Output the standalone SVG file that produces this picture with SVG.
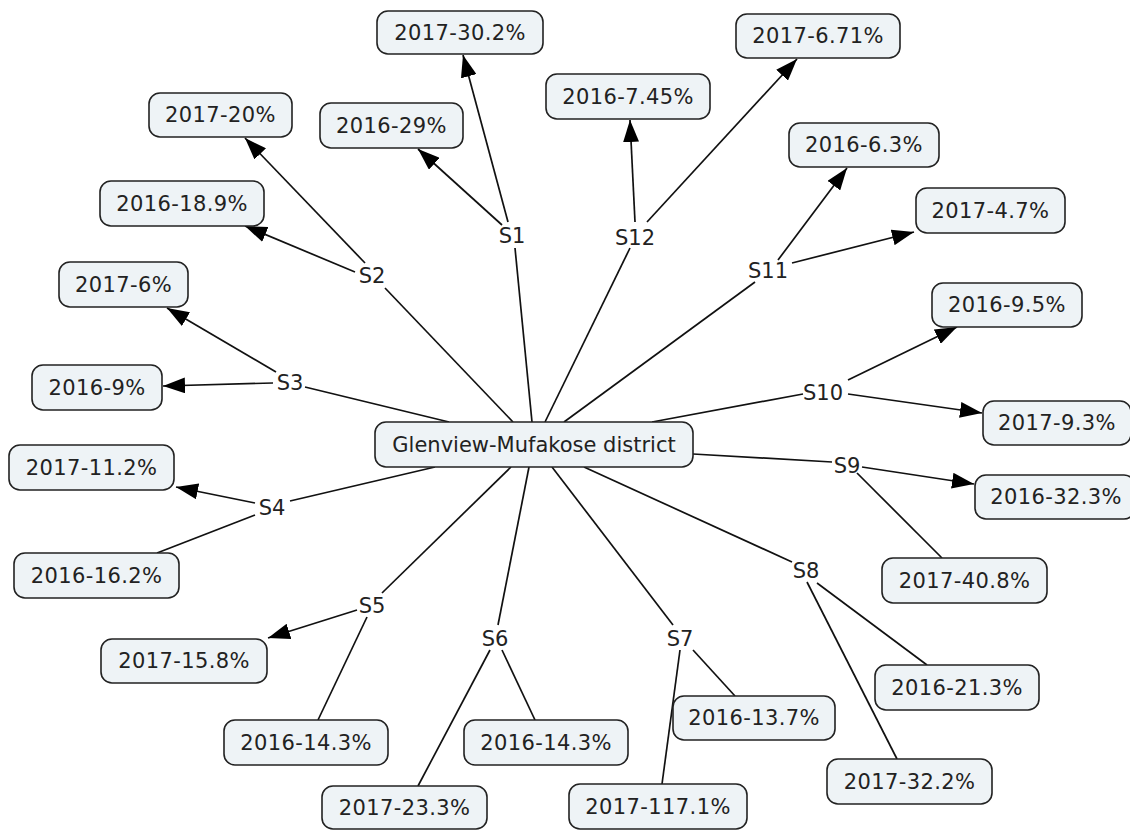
<svg xmlns="http://www.w3.org/2000/svg" width="1130" height="830" viewBox="0 0 1130 830">
<style>
.box{fill:#eef3f6;stroke:#222;stroke-width:1.6}
.t{font-family:"DejaVu Sans",Verdana,sans-serif;font-size:21px;fill:#222;text-anchor:middle}
.n text{letter-spacing:0.4px}
.c line{stroke:#111;stroke-width:1.7}
.a{marker-end:url(#ah)}
</style>
<defs>
<marker id="ah" markerUnits="userSpaceOnUse" markerWidth="22" markerHeight="16" refX="22" refY="8" orient="auto">
<path d="M0,0 L22,8 L0,16 z" fill="#000"/>
</marker>
</defs>
<rect width="1130" height="830" fill="#fff"/>
<g id="connectors" class="c">
<line x1="515" y1="248" x2="532" y2="422"/>
<line x1="630" y1="248" x2="545" y2="422"/>
<line x1="755" y1="282" x2="564" y2="422"/>
<line x1="385" y1="288" x2="513" y2="422"/>
<line x1="305" y1="387" x2="449" y2="422"/>
<line x1="290" y1="501" x2="435" y2="467"/>
<line x1="382" y1="593" x2="511" y2="467"/>
<line x1="498" y1="625" x2="529" y2="467"/>
<line x1="673" y1="625" x2="552" y2="467"/>
<line x1="792" y1="562" x2="584" y2="467"/>
<line x1="832" y1="462" x2="693" y2="454"/>
<line x1="803" y1="394" x2="652" y2="422"/>
<line class="a" x1="508" y1="222" x2="463" y2="55"/>
<line class="a" x1="502" y1="225" x2="418" y2="149"/>
<line class="a" x1="365" y1="263" x2="245" y2="138"/>
<line class="a" x1="355" y1="272" x2="245" y2="226"/>
<line class="a" x1="276" y1="372" x2="167" y2="308"/>
<line class="a" x1="273" y1="383" x2="163" y2="386"/>
<line class="a" x1="255" y1="503" x2="176" y2="487"/>
<line x1="255" y1="515" x2="157" y2="553"/>
<line class="a" x1="357" y1="610" x2="268" y2="638"/>
<line x1="367" y1="617" x2="318" y2="720"/>
<line x1="502" y1="650" x2="535" y2="720"/>
<line x1="490" y1="650" x2="418" y2="786"/>
<line x1="693" y1="650" x2="735" y2="696"/>
<line x1="680" y1="650" x2="662" y2="784"/>
<line x1="817" y1="583" x2="927" y2="665"/>
<line x1="807" y1="582" x2="897" y2="759"/>
<line class="a" x1="862" y1="467" x2="974" y2="484"/>
<line x1="857" y1="473" x2="942" y2="558"/>
<line class="a" x1="848" y1="380" x2="957" y2="327"/>
<line class="a" x1="848" y1="394" x2="982" y2="413"/>
<line class="a" x1="778" y1="260" x2="847" y2="168"/>
<line class="a" x1="792" y1="263" x2="914" y2="232"/>
<line class="a" x1="635" y1="222" x2="630" y2="120"/>
<line class="a" x1="647" y1="222" x2="797" y2="59"/>
</g>
<g id="center"><rect class="box" x="375" y="422" width="318" height="45" rx="11"/><text class="t" x="534" y="452">Glenview-Mufakose district</text></g>
<g id="S1"><text class="t" x="512" y="243">S1</text></g>
<g id="S2"><text class="t" x="372" y="283">S2</text></g>
<g id="S3"><text class="t" x="290" y="390">S3</text></g>
<g id="S4"><text class="t" x="272" y="515">S4</text></g>
<g id="S5"><text class="t" x="372" y="613">S5</text></g>
<g id="S6"><text class="t" x="495" y="646">S6</text></g>
<g id="S7"><text class="t" x="680" y="646">S7</text></g>
<g id="S8"><text class="t" x="806" y="578">S8</text></g>
<g id="S9"><text class="t" x="847" y="473">S9</text></g>
<g id="S10"><text class="t" x="823" y="400">S10</text></g>
<g id="S11"><text class="t" x="768" y="278">S11</text></g>
<g id="S12"><text class="t" x="635" y="245">S12</text></g>
<g class="n">
<g id="n1"><rect class="box" x="377" y="11" width="166" height="43" rx="11"/><text class="t" x="460" y="40">2017-30.2%</text></g>
<g id="n2"><rect class="box" x="320" y="103" width="143" height="45" rx="11"/><text class="t" x="391.5" y="133">2016-29%</text></g>
<g id="n3"><rect class="box" x="149" y="93" width="143" height="44" rx="11"/><text class="t" x="220.5" y="122">2017-20%</text></g>
<g id="n4"><rect class="box" x="100" y="181" width="164" height="45" rx="11"/><text class="t" x="182" y="211">2016-18.9%</text></g>
<g id="n5"><rect class="box" x="59" y="262" width="129" height="45" rx="11"/><text class="t" x="123.5" y="292">2017-6%</text></g>
<g id="n6"><rect class="box" x="32" y="365" width="130" height="45" rx="11"/><text class="t" x="97" y="395">2016-9%</text></g>
<g id="n7"><rect class="box" x="9" y="445" width="165" height="45" rx="11"/><text class="t" x="91.5" y="475">2017-11.2%</text></g>
<g id="n8"><rect class="box" x="14" y="553" width="165" height="45" rx="11"/><text class="t" x="96.5" y="583">2016-16.2%</text></g>
<g id="n9"><rect class="box" x="101" y="639" width="166" height="44" rx="11"/><text class="t" x="184" y="668">2017-15.8%</text></g>
<g id="n10"><rect class="box" x="224" y="720" width="164" height="45" rx="11"/><text class="t" x="306" y="750">2016-14.3%</text></g>
<g id="n11"><rect class="box" x="322" y="786" width="165" height="43" rx="11"/><text class="t" x="404.5" y="815">2017-23.3%</text></g>
<g id="n12"><rect class="box" x="464" y="720" width="164" height="45" rx="11"/><text class="t" x="546" y="750">2016-14.3%</text></g>
<g id="n13"><rect class="box" x="569" y="784" width="178" height="45" rx="11"/><text class="t" x="658" y="814">2017-117.1%</text></g>
<g id="n14"><rect class="box" x="673" y="696" width="162" height="44" rx="11"/><text class="t" x="754" y="725">2016-13.7%</text></g>
<g id="n15"><rect class="box" x="827" y="759" width="165" height="45" rx="11"/><text class="t" x="909.5" y="789">2017-32.2%</text></g>
<g id="n16"><rect class="box" x="875" y="665" width="164" height="45" rx="11"/><text class="t" x="957" y="695">2016-21.3%</text></g>
<g id="n17"><rect class="box" x="882" y="558" width="165" height="45" rx="11"/><text class="t" x="964.5" y="588">2017-40.8%</text></g>
<g id="n18"><rect class="box" x="975" y="475" width="160" height="44" rx="11"/><text class="t" x="1056" y="504">2016-32.3%</text></g>
<g id="n19"><rect class="box" x="983" y="401" width="148" height="44" rx="11"/><text class="t" x="1057" y="430">2017-9.3%</text></g>
<g id="n20"><rect class="box" x="932" y="283" width="150" height="44" rx="11"/><text class="t" x="1007" y="312">2016-9.5%</text></g>
<g id="n21"><rect class="box" x="916" y="188" width="149" height="45" rx="11"/><text class="t" x="990.5" y="218">2017-4.7%</text></g>
<g id="n22"><rect class="box" x="789" y="123" width="150" height="44" rx="11"/><text class="t" x="864" y="152">2016-6.3%</text></g>
<g id="n23"><rect class="box" x="736" y="14" width="164" height="44" rx="11"/><text class="t" x="818" y="43">2017-6.71%</text></g>
<g id="n24"><rect class="box" x="546" y="74" width="164" height="45" rx="11"/><text class="t" x="628" y="104">2016-7.45%</text></g>
</g>
</svg>
